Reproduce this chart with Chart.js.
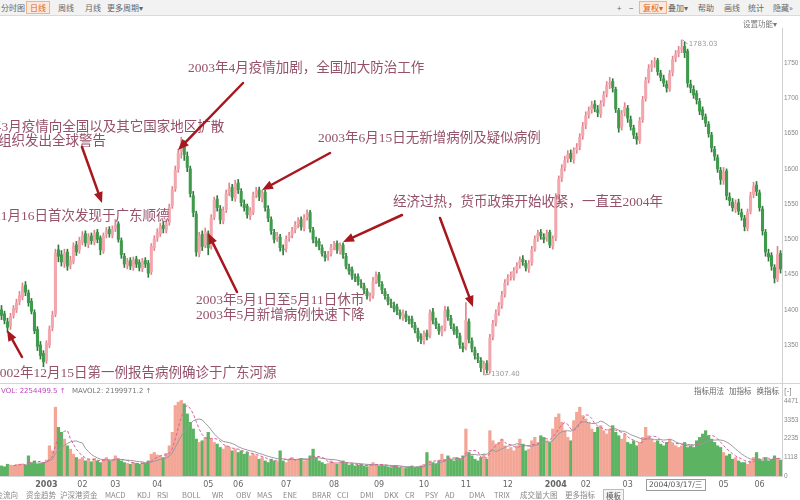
<!DOCTYPE html>
<html><head><meta charset="utf-8">
<script src="https://cdn.jsdelivr.net/npm/chart.js@4.4.1/dist/chart.umd.min.js"></script>
<style>
html,body{margin:0;padding:0;background:#fff;}
#wrap{position:relative;width:800px;height:500px;overflow:hidden;font-family:"Noto Sans CJK SC","Noto Sans",sans-serif;}
#c{position:absolute;left:0;top:0;}
#tb{position:absolute;left:0;top:0;width:800px;height:15px;background:#f2f2f2;border-bottom:1px solid #dadada;font-size:8px;color:#666;}
.it{position:absolute;top:2px;line-height:11px;white-space:nowrap;}
.sel{border:1px solid #f0b48a;background:#fde9dc;color:#d8641e;padding:0 3px;top:1px;}
#setf{position:absolute;left:743px;top:18px;font-size:7.5px;color:#777;}
#tabs{position:absolute;left:0;top:489px;width:800px;height:11px;font-size:7.5px;color:#888;}
#tabs span{position:absolute;top:0;line-height:11px;white-space:nowrap;}
#tabs .on{border:1px solid #bbb;background:#f4f4f4;padding:0 2px;color:#555;}
</style></head>
<body>
<div id="wrap">
<canvas id="c" width="800" height="500"></canvas>
<div id="tb">
 <span class="it" style="left:1px">分时图</span>
 <span class="it sel" style="left:26px">日线</span>
 <span class="it" style="left:58px">周线</span>
 <span class="it" style="left:85px">月线</span>
 <span class="it" style="left:107px">更多周期▾</span>
 <span class="it" style="left:617px">+</span>
 <span class="it" style="left:629px">−</span>
 <span class="it sel" style="left:639px">复权▾</span>
 <span class="it" style="left:668px">叠加▾</span>
 <span class="it" style="left:698px">帮助</span>
 <span class="it" style="left:724px">画线</span>
 <span class="it" style="left:748px">统计</span>
 <span class="it" style="left:773px">隐藏»</span>
</div>
<div id="setf">设置功能▾</div>
<div id="tabs"></div>
</div>
<script>
// ---------- DATA ----------
const opens = [
1400,1394,1383,1377,1392,1400,1412,1418,1435,1424,
1412,1396,1372,1350,1338,1328,1350,1375,1394,1485,
1478,1466,1482,1464,1468,1492,1485,1496,1508,1493,
1505,1496,1510,1502,1483,1507,1514,1506,1516,1522,
1498,1476,1463,1470,1460,1472,1467,1458,1470,1466,
1454,1488,1502,1508,1520,1513,1524,1548,1572,1600,
1625,1633,1618,1600,1562,1536,1480,1507,1492,1508,
1490,1532,1557,1543,1526,1542,1567,1574,1558,1580,
1568,1550,1547,1533,1538,1564,1570,1558,1567,1543,
1528,1510,1502,1503,1486,1487,1502,1507,1514,1522,
1528,1516,1532,1538,1513,1498,1497,1488,1478,1476,
1480,1490,1494,1483,1492,1476,1460,1457,1446,1447,
1438,1434,1426,1418,1420,1442,1450,1436,1426,1418,
1410,1406,1404,1396,1390,1393,1386,1387,1378,1370,
1362,1356,1367,1364,1397,1383,1376,1368,1374,1400,
1388,1376,1372,1363,1348,1347,1383,1356,1343,1333,
1328,1316,1324,1313,1362,1382,1397,1407,1422,1440,
1447,1446,1457,1464,1472,1466,1458,1467,1487,1502,
1510,1503,1502,1510,1490,1502,1562,1587,1602,1614,
1622,1613,1627,1632,1647,1662,1677,1684,1692,1684,
1678,1694,1707,1720,1724,1713,1683,1660,1680,1686,
1670,1658,1646,1640,1670,1700,1727,1744,1750,1754,
1736,1728,1720,1713,1737,1757,1764,1770,1774,1767,
1720,1713,1707,1696,1684,1674,1663,1648,1628,1616,
1598,1583,1597,1560,1553,1543,1552,1538,1530,1516,
1540,1564,1577,1566,1543,1510,1480,1477,1460,1443,
1480];
const highs = [
1406,1398,1388,1395,1406,1415,1426,1438,1440,1428,
1416,1400,1376,1355,1342,1356,1377,1398,1486,1492,
1484,1486,1486,1476,1495,1497,1503,1511,1512,1508,
1509,1513,1514,1505,1509,1517,1518,1519,1528,1525,
1502,1480,1473,1474,1475,1476,1471,1473,1474,1470,
1494,1505,1515,1523,1525,1528,1550,1575,1604,1628,
1645,1640,1624,1604,1568,1540,1510,1512,1516,1512,
1535,1560,1562,1548,1546,1570,1580,1578,1584,1585,
1572,1556,1550,1545,1567,1574,1574,1570,1570,1548,
1532,1514,1510,1507,1492,1505,1510,1517,1525,1531,
1532,1535,1542,1541,1517,1503,1501,1492,1483,1483,
1493,1497,1498,1495,1495,1480,1465,1461,1451,1451,
1443,1438,1430,1424,1446,1454,1453,1440,1430,1422,
1415,1411,1408,1400,1400,1398,1391,1391,1382,1374,
1366,1370,1371,1400,1402,1388,1380,1377,1405,1404,
1392,1380,1376,1367,1353,1410,1387,1360,1347,1338,
1332,1327,1328,1365,1385,1400,1410,1426,1443,1450,
1454,1460,1467,1475,1477,1470,1470,1490,1505,1513,
1514,1508,1513,1513,1505,1565,1590,1606,1618,1626,
1627,1630,1636,1650,1666,1681,1688,1696,1697,1690,
1697,1710,1724,1730,1728,1716,1686,1683,1694,1690,
1675,1662,1651,1673,1703,1730,1748,1754,1758,1757,
1740,1733,1725,1740,1760,1768,1774,1783.03,1780,1770,
1726,1718,1711,1700,1688,1678,1667,1652,1632,1620,
1602,1602,1600,1566,1558,1556,1557,1543,1534,1543,
1567,1581,1582,1570,1547,1514,1486,1481,1464,1490,
1484];
const lows = [
1386,1380,1368,1372,1388,1396,1407,1414,1420,1405,
1394,1366,1342,1330,1319,1324,1346,1370,1390,1468,
1462,1460,1456,1458,1465,1477,1480,1492,1490,1488,
1493,1492,1495,1478,1480,1502,1503,1502,1511,1496,
1473,1460,1458,1457,1456,1460,1455,1454,1460,1446,
1450,1484,1497,1504,1509,1509,1520,1544,1568,1595,
1615,1612,1596,1560,1532,1476,1475,1484,1488,1478,
1486,1528,1540,1522,1522,1538,1562,1555,1554,1565,
1547,1540,1530,1528,1535,1559,1555,1553,1540,1525,
1507,1495,1497,1483,1478,1482,1497,1502,1509,1516,
1513,1512,1527,1510,1495,1490,1485,1476,1469,1470,
1476,1485,1480,1479,1473,1458,1450,1443,1440,1435,
1431,1423,1415,1412,1416,1437,1433,1423,1415,1407,
1403,1397,1393,1387,1385,1383,1380,1375,1367,1355,
1352,1351,1357,1360,1380,1373,1365,1363,1370,1385,
1373,1365,1360,1345,1340,1343,1353,1340,1330,1325,
1312,1307.4,1310,1310,1357,1377,1392,1402,1418,1435,
1442,1442,1452,1459,1463,1455,1453,1463,1483,1497,
1500,1495,1497,1488,1486,1498,1557,1582,1597,1609,
1610,1608,1622,1627,1642,1657,1672,1679,1681,1674,
1673,1689,1702,1714,1709,1680,1652,1655,1675,1666,
1655,1643,1635,1636,1666,1696,1722,1738,1744,1733,
1725,1717,1709,1710,1732,1752,1759,1765,1758,1716,
1708,1700,1692,1677,1670,1660,1645,1624,1612,1595,
1578,1578,1556,1548,1540,1538,1535,1527,1512,1512,
1536,1559,1562,1540,1506,1476,1469,1456,1438,1440,
1452];
const closes = [
1392,1385,1375,1390,1402,1410,1420,1432,1425,1410,
1398,1370,1348,1335,1326,1352,1372,1392,1480,1476,
1468,1480,1462,1470,1490,1482,1498,1505,1495,1503,
1498,1508,1500,1485,1505,1512,1508,1514,1520,1500,
1478,1465,1468,1462,1470,1465,1460,1468,1465,1452,
1490,1500,1510,1518,1515,1522,1545,1570,1598,1622,
1630,1620,1602,1565,1538,1482,1505,1490,1510,1488,
1530,1555,1545,1528,1540,1565,1572,1560,1578,1570,
1552,1545,1535,1540,1562,1568,1560,1565,1545,1530,
1512,1500,1505,1488,1485,1500,1505,1512,1520,1526,
1518,1530,1536,1515,1500,1495,1490,1480,1474,1478,
1488,1492,1485,1490,1478,1462,1455,1448,1445,1440,
1436,1428,1420,1418,1440,1448,1438,1428,1420,1412,
1408,1402,1398,1392,1395,1388,1385,1380,1372,1360,
1358,1365,1362,1395,1385,1378,1370,1372,1398,1390,
1378,1370,1365,1350,1345,1385,1358,1345,1335,1330,
1318,1322,1315,1360,1380,1395,1405,1420,1438,1445,
1448,1455,1462,1470,1468,1460,1465,1485,1500,1508,
1505,1500,1508,1492,1500,1560,1585,1600,1612,1620,
1615,1625,1630,1645,1660,1675,1682,1690,1686,1680,
1692,1705,1718,1722,1715,1685,1658,1678,1688,1672,
1660,1648,1642,1668,1698,1725,1742,1748,1752,1738,
1730,1722,1715,1735,1755,1762,1768,1772,1765,1722,
1715,1705,1698,1682,1676,1665,1650,1630,1618,1600,
1585,1595,1562,1555,1545,1550,1540,1532,1518,1538,
1562,1575,1568,1545,1512,1482,1475,1462,1445,1478,
1458];
const volumes = [
600,550,700,650,620,680,700,720,650,1200,
800,900,700,750,800,950,1800,1500,4100,2900,
2600,2200,1800,1600,1300,1100,1000,1100,900,1000,
850,1050,900,800,1000,1100,900,950,1200,1000,
900,800,750,700,800,750,700,800,750,900,
1300,1400,1250,1200,1100,1350,1800,2600,4200,4400,
4500,4300,3700,3200,2800,2200,2000,2100,2300,2600,
2200,2000,1900,1700,1600,1800,1700,1500,1600,1400,
1500,1300,1400,1200,1300,1200,1000,1100,900,800,
1000,900,850,1500,900,800,1000,1100,950,1000,
1050,900,1000,1200,1600,1100,900,800,700,750,
900,800,700,850,900,750,650,700,600,650,
700,600,550,700,800,700,600,650,600,550,
500,600,550,500,500,450,550,600,500,550,
600,700,1400,900,800,700,900,1300,1000,1200,
1000,900,1100,1000,1200,2800,1400,1200,1000,900,
1100,1300,1000,2700,2100,1900,2000,2200,1800,1600,
1700,1500,1800,2200,1900,1500,1600,2100,2300,2000,
2400,2300,2100,2000,2800,3500,3700,3200,2700,2300,
2100,3300,3800,4100,3600,3400,3200,2800,2600,2900,
3000,2700,2500,2800,3000,2600,2400,2200,2500,2000,
1900,2100,1800,2000,2300,2900,2400,2200,2000,2100,
1900,1800,2000,2200,1900,1800,1700,1800,2000,1700,
1800,1700,2100,2300,2500,2700,2400,2200,2000,1800,
1700,1400,1200,1300,1000,1100,900,800,800,700,
900,1100,1400,1000,900,1100,900,1000,1200,1000,
950];
const monthTickIdx  = [15,27,38,52,69,79,95,111,126,141,155,169,185,195,209,241,253];
const monthTickText = ['2003','02','03','04','05','06','07','08','09','10','11','12','2004','02','03','05','06'];
const priceTicks = [1350,1400,1450,1500,1550,1600,1650,1700,1750];
const volTicks = [0,1118,2235,3353,4471];
const volTickText = ['0','1118','2235','3353','4471'];
const peakLabel = '1783.03', lowLabel = '1307.40';
const crossDate = '2004/03/17/三';
const noteTexts = [
 '2003年4月疫情加剧，全国加大防治工作',
 '2003年3月疫情向全国以及其它国家地区扩散',
 '世界卫生组织发出全球警告',
 '2002年11月16日首次发现于广东顺德',
 '2002年12月15日第一例报告病例确诊于广东河源',
 '2003年5月1日至5月11日休市',
 '2003年5月新增病例快速下降',
 '2003年6月15日无新增病例及疑似病例',
 '经济过热，货币政策开始收紧，一直至2004年'
];
const volHeadA = 'VOL: 2254499.5 ↑', volHeadB = 'MAVOL2: 2199971.2 ↑';
const volButtons = '指标用法   加指标   换指标   [-]';
const tabNames = ['资金流向','资金趋势','沪深港资金','MACD','KDJ','RSI','BOLL','WR','OBV','MAS','ENE','BRAR','CCI','DMI','DKX','CR','PSY','AD','DMA','TRIX','成交量大图','更多指标','模板'];

// ---------- BUILD ----------
const N = closes.length;
const labels = new Array(N).fill('');
monthTickIdx.forEach((k, j) => { labels[k] = monthTickText[j]; });
const bodies = opens.map((o, i) => [o, closes[i]]);
const wicks = lows.map((l, i) => [l, highs[i]]);
const up = i => closes[i] >= opens[i];
function movAvg(arr, n) {
  return arr.map((v, i) => {
    if (i < n - 1) return null;
    let s = 0; for (let j = i - n + 1; j <= i; j++) s += arr[j];
    return s / n;
  });
}
const ma5 = movAvg(volumes, 5), ma10 = movAvg(volumes, 10);

const tabPos = [-12,26,60,105,137,157,182,212,236,257,283,312,337,360,384,405,425,445,469,494,520,565,603];
const tabs = document.getElementById('tabs');
tabNames.forEach((t, i) => {
  const s = document.createElement('span');
  s.textContent = t; s.style.left = tabPos[i] + 'px';
  if (t === '模板') s.className = 'on';
  tabs.appendChild(s);
});

function arrow(ctx, x1, y1, x2, y2) {
  const a = Math.atan2(y2 - y1, x2 - x1), hl = 11, hw = 4.5;
  const bx = x2 - hl * Math.cos(a), by = y2 - hl * Math.sin(a);
  ctx.beginPath(); ctx.moveTo(x1, y1); ctx.lineTo(bx, by); ctx.stroke();
  ctx.beginPath(); ctx.moveTo(x2, y2);
  ctx.lineTo(bx + hw * Math.sin(a), by - hw * Math.cos(a));
  ctx.lineTo(bx - hw * Math.sin(a), by + hw * Math.cos(a));
  ctx.closePath(); ctx.fill();
}

const annot = {
  id: 'annot',
  afterDatasetsDraw(chart) {
    const { ctx, chartArea: ca, scales } = chart;
    const ys = scales.y, yv = scales.yv, xs = scales.x;
    ctx.save();
    ctx.strokeStyle = '#d4d4d4'; ctx.lineWidth = 1;
    ctx.beginPath();
    ctx.moveTo(0, Math.round(ys.bottom) + 0.5); ctx.lineTo(800, Math.round(ys.bottom) + 0.5);
    ctx.moveTo(0, Math.round(yv.bottom) + 0.5); ctx.lineTo(ca.right, Math.round(yv.bottom) + 0.5);
    ctx.stroke();
    ctx.font = '7px "DejaVu Sans"'; ctx.fillStyle = '#999'; ctx.strokeStyle = '#999'; ctx.textBaseline = 'middle'; ctx.textAlign = 'left';
    const kp = highs.indexOf(Math.max(...highs)), kl = lows.indexOf(Math.min(...lows));
    const px = xs.getPixelForValue(kp), py = ys.getPixelForValue(highs[kp]);
    ctx.beginPath(); ctx.moveTo(px + 1, py); ctx.lineTo(px + 6, py + 4); ctx.stroke();
    ctx.fillText(peakLabel, px + 7, py + 4);
    const lx = xs.getPixelForValue(kl), ly = ys.getPixelForValue(lows[kl]);
    ctx.beginPath(); ctx.moveTo(lx + 1, ly); ctx.lineTo(lx + 6, ly - 1); ctx.stroke();
    ctx.fillText(lowLabel, lx + 7, ly - 1);
    ctx.font = '7px "DejaVu Sans"';
    ctx.fillStyle = '#c046c0'; ctx.fillText(volHeadA, 1, ys.bottom + 8);
    ctx.fillStyle = '#777'; ctx.fillText(volHeadB, 72, ys.bottom + 8);
    ctx.font = '7.5px "Noto Sans CJK SC"'; ctx.fillStyle = '#666';
    ctx.fillText(volButtons, 694, ys.bottom + 8);
    const dx = xs.getPixelForValue(225);
    ctx.font = '7.5px "DejaVu Sans","Noto Sans CJK SC"';
    const w = ctx.measureText(crossDate).width + 6;
    ctx.fillStyle = '#fff'; ctx.fillRect(dx - w / 2, yv.bottom + 3, w, 11);
    ctx.strokeStyle = '#999'; ctx.strokeRect(Math.round(dx - w / 2) + 0.5, Math.round(yv.bottom + 3) + 0.5, Math.round(w), 11);
    ctx.fillStyle = '#555'; ctx.textAlign = 'center'; ctx.fillText(crossDate, dx, yv.bottom + 9);
    ctx.textAlign = 'left';
    ctx.font = '13.5px "Liberation Serif","Noto Sans CJK SC"';
    ctx.fillStyle = '#95506a';
    const pos = [[188,68],[-39,127],[-56,141],[-46,216],[-7,373],[196,300],[196,315],[318,138],[393,202]];
    noteTexts.forEach((t, i) => ctx.fillText(t, pos[i][0], pos[i][1]));
    ctx.strokeStyle = '#a8161e'; ctx.fillStyle = '#a8161e'; ctx.lineWidth = 2.5; ctx.lineCap = 'round';
    const arrs = [[243,83,178,150],[82,147,102,203],[22,357,7,330],[237,292,208,233],[330,153,262,190],[402,215,343,242],[440,218,473,307]];
    arrs.forEach(a => arrow(ctx, a[0], a[1], a[2], a[3]));
    ctx.restore();
  }
};

const upBody = '#f2a7ae', dnBody = '#3f9a4c', upWick = '#e2838d', dnWick = '#2f7a3a';
const axisFont = { size: 6.5, family: 'Liberation Sans' };
new Chart(document.getElementById('c'), {
  type: 'bar',
  data: {
    labels,
    datasets: [
      { label: 'body', data: bodies, yAxisID: 'y', grouped: false, order: 1, barThickness: 2.4, minBarLength: 1,
        backgroundColor: c => up(c.dataIndex) ? upBody : dnBody },
      { label: 'wick', data: wicks, yAxisID: 'y', grouped: false, order: 2, barThickness: 1,
        backgroundColor: c => up(c.dataIndex) ? upWick : dnWick },
      { label: 'vol', data: volumes, yAxisID: 'yv', grouped: false, order: 3, barThickness: 2.6,
        backgroundColor: c => up(c.dataIndex) ? '#f3a596' : '#5cb463' },
      { type: 'line', label: 'ma5', data: ma5, yAxisID: 'yv', order: 0, borderColor: '#d8609a', borderWidth: 1, pointRadius: 0, borderDash: [3, 2] },
      { type: 'line', label: 'ma10', data: ma10, yAxisID: 'yv', order: 0, borderColor: '#9a9a9a', borderWidth: 1, pointRadius: 0 }
    ]
  },
  options: {
    responsive: false, animation: false,
    layout: { padding: { top: 28, bottom: 10, left: 0, right: 0 } },
    plugins: { legend: { display: false }, tooltip: { enabled: false } },
    scales: {
      x: {
        type: 'category', offset: true,
        grid: { display: false, drawTicks: false }, border: { display: false },
        ticks: { autoSkip: false, maxRotation: 0, minRotation: 0, padding: 4, color: '#666',
          font: c => ({ size: 8, family: 'DejaVu Sans', weight: (c.tick && String(c.tick.label).length === 4) ? 'bold' : 'normal' }),
          callback: (v, i) => labels[i] || null },
        afterFit: s => { s.height = 14; }
      },
      y: {
        position: 'right', stack: 'r', stackWeight: 355, min: 1296, max: 1800,
        grid: { display: false, drawTicks: false }, border: { display: true, color: '#d0d0d0' },
        afterBuildTicks: s => { s.ticks = priceTicks.map(v => ({ value: v })); },
        ticks: { padding: 2, color: '#888', font: axisFont, callback: v => String(v) },
        afterFit: s => { s.width = 18; }
      },
      yv: {
        position: 'right', stack: 'r', stackWeight: 93, min: 0, max: 5540,
        grid: { display: false, drawTicks: false }, border: { display: true, color: '#d0d0d0' },
        afterBuildTicks: s => { s.ticks = volTicks.map(v => ({ value: v })); },
        ticks: { padding: 2, color: '#888', font: axisFont, callback: v => volTickText[volTicks.indexOf(v)] },
        afterFit: s => { s.width = 18; }
      }
    }
  },
  plugins: [annot]
});
</script>
</body></html>
